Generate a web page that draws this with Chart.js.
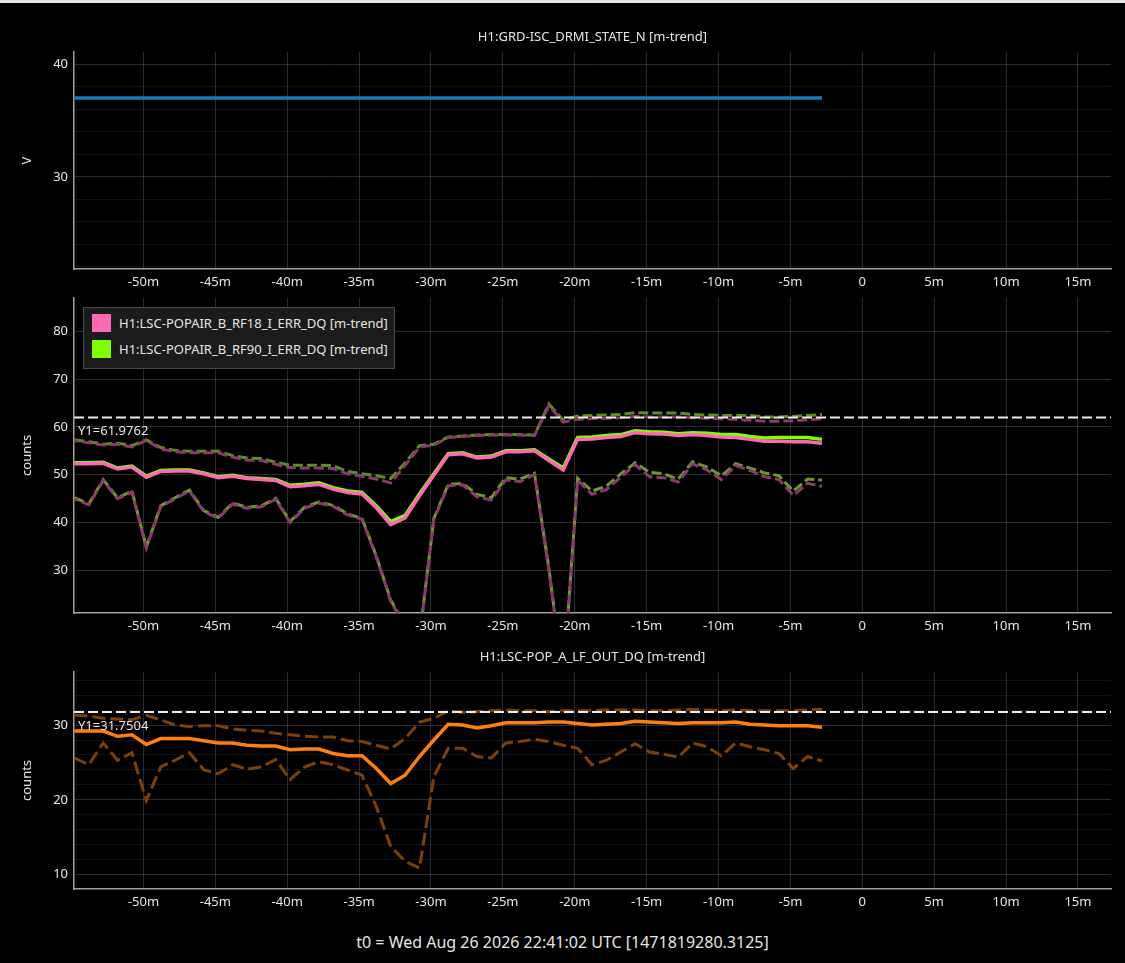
<!DOCTYPE html>
<html>
<head>
<meta charset="utf-8">
<script src="https://cdn.jsdelivr.net/npm/chart.js@4.4.1/dist/chart.umd.min.js"></script>
<style>
  html, body { margin: 0; padding: 0; background: #000; }
  body { width: 1125px; height: 963px; position: relative; overflow: hidden; border-top: 3px solid #e6e6e6; box-sizing: border-box; font-family: "Noto Sans", sans-serif; }
  canvas { position: absolute; left: 0; }
  #c1 { top: -3px; }
  #c2 { top: 281px; }
  #c3 { top: 637px; }
  .legend { position: absolute; left: 83px; top: 304px; width: 310px; height: 60px; background: #1b1b1b; border: 1px solid #4a4a4a; color: #e6e6e6; font-size: 13px; }
  .legend div { height: 26px; line-height: 18px; margin-top: 6px; margin-left: 8px; white-space: nowrap; }
  .legend span { display: inline-block; width: 19px; height: 18px; vertical-align: top; margin-right: 8px; }
  .footer { position: absolute; left: 0; width: 1125px; top: 928px; text-align: center; color: #e6e6e6; font-size: 16px; }
</style>
</head>
<body>
<canvas id="c1" width="1125" height="296"></canvas>
<canvas id="c2" width="1125" height="356"></canvas>
<canvas id="c3" width="1125" height="276"></canvas>
<div class="legend">
  <div><span style="background:#ff69b4"></span>H1:LSC-POPAIR_B_RF18_I_ERR_DQ [m-trend]</div>
  <div style="margin-top:0"><span style="background:#7fff00"></span>H1:LSC-POPAIR_B_RF90_I_ERR_DQ [m-trend]</div>
</div>
<div class="footer">t0 = Wed Aug 26 2026 22:41:02 UTC [1471819280.3125]</div>
<script>
// minute-trend sample times, minutes relative to t0
const times = [-54.8,-53.8,-52.8,-51.8,-50.8,-49.8,-48.8,-47.8,-46.8,-45.8,-44.8,-43.8,-42.8,-41.8,-40.8,-39.8,-38.8,-37.8,-36.8,-35.8,-34.8,-33.8,-32.8,-31.8,-30.8,-29.8,-28.8,-27.8,-26.8,-25.8,-24.8,-23.8,-22.8,-21.8,-20.8,-19.8,-18.8,-17.8,-16.8,-15.8,-14.8,-13.8,-12.8,-11.8,-10.8,-9.8,-8.8,-7.8,-6.8,-5.8,-4.8,-3.8,-2.8];

const xTicks = [-50,-45,-40,-35,-30,-25,-20,-15,-10,-5,0,5,10,15];

// H1:GRD-ISC_DRMI_STATE_N
const drmiState = [37,37,37,37,37,37,37,37,37,37,37,37,37,37,37,37,37,37,37,37,37,37,37,37,37,37,37,37,37,37,37,37,37,37,37,37,37,37,37,37,37,37,37,37,37,37,37,37,37,37,37,37,37];
const yTicksTop = [22,24,26,28,30,32,34,36,38,40];

// H1:LSC-POPAIR_B_RF18_I_ERR_DQ
const rf18Mean = [52.3,52.3,52.4,51.2,51.6,49.5,50.7,50.8,50.8,50.2,49.4,49.7,49.2,49.0,48.8,47.5,47.7,48.0,47.0,46.3,46.0,43.1,39.6,41.0,45.6,49.9,54.2,54.4,53.5,53.7,54.8,54.8,55.0,53.0,51.0,57.4,57.5,57.8,58.0,58.8,58.6,58.5,58.2,58.4,58.2,57.9,57.8,57.4,57.0,57.0,56.9,56.9,56.6];
const rf18Max = [57.1,56.7,56.2,56.4,55.8,57.2,55.4,54.8,54.6,54.6,54.6,53.7,53.1,53.0,52.2,51.5,51.4,51.4,51.3,50.2,49.7,49.1,48.3,52.0,55.8,56.2,57.8,58.0,58.2,58.3,58.3,58.3,58.2,64.5,61.0,61.6,61.7,61.8,61.9,62.2,62.1,62.1,62.1,61.9,61.8,61.7,61.6,61.4,61.2,61.2,61.3,61.5,61.7];
const rf18Min = [45.0,43.7,48.8,45.0,46.4,34.7,43.3,45.0,46.6,42.3,40.9,43.9,43.0,43.3,44.9,40.0,43.0,44.1,43.4,41.6,40.7,32.8,23.6,18.3,15.8,40.7,47.7,47.9,45.4,44.7,48.9,48.6,50.1,30.3,6.8,48.9,45.9,46.9,49.5,52.1,49.6,49.4,48.5,52.3,51.0,49.0,51.9,50.9,49.6,49.0,45.7,48.2,47.6];

// H1:LSC-POPAIR_B_RF90_I_ERR_DQ
const rf90Mean = [52.5,52.5,52.6,51.4,51.8,49.7,50.9,51.0,51.0,50.4,49.6,49.9,49.4,49.2,49.0,47.8,48.0,48.3,47.3,46.6,46.3,43.5,40.2,41.5,46.0,50.2,54.4,54.6,53.7,53.9,55.0,55.0,55.2,53.3,51.4,57.8,57.9,58.2,58.4,59.2,59.0,58.9,58.6,58.8,58.7,58.4,58.4,58.0,57.7,57.8,57.8,57.8,57.4];
const rf90Max = [57.3,56.9,56.4,56.6,56.1,57.3,55.7,55.1,54.9,54.9,54.9,54.0,53.5,53.4,52.6,52.0,52.0,52.0,51.9,50.7,50.2,49.8,49.2,52.5,56.1,56.4,57.9,58.1,58.3,58.4,58.4,58.4,58.3,64.8,61.4,62.3,62.4,62.5,62.6,63.0,62.9,62.9,62.9,62.6,62.5,62.4,62.4,62.4,62.1,62.1,62.2,62.4,62.6];
const rf90Min = [45.2,43.9,49.0,45.2,46.6,34.9,43.5,45.2,46.8,42.5,41.1,44.1,43.2,43.5,45.1,40.2,43.2,44.3,43.6,41.8,40.9,33.0,23.8,18.5,16.0,40.9,48.0,48.2,45.9,45.2,49.4,49.1,50.3,30.5,7.0,49.3,46.6,47.6,50.2,52.5,50.5,50.2,49.1,52.7,51.6,49.8,52.3,51.4,50.4,49.8,46.6,49.1,48.9];
const yTicksMid = [30,40,50,60,70,80];
const y1Mid = 61.9762;

// H1:LSC-POP_A_LF_OUT_DQ
const popMean = [29.2,29.2,29.2,28.5,28.7,27.4,28.2,28.2,28.2,27.9,27.6,27.6,27.3,27.2,27.2,26.7,26.8,26.8,26.2,25.9,25.9,24.2,22.2,23.3,25.8,28.0,30.1,30.0,29.6,29.9,30.3,30.3,30.3,30.4,30.4,30.2,30.0,30.1,30.2,30.5,30.4,30.3,30.2,30.3,30.3,30.3,30.4,30.1,30.0,29.9,29.9,29.9,29.7];
const popMax = [31.3,31.2,30.9,30.8,30.7,31.3,30.7,30.0,29.8,29.9,29.9,29.5,29.3,29.2,28.9,28.7,28.5,28.4,28.4,27.9,27.8,27.3,26.8,28.2,30.4,30.9,31.9,31.7,31.8,31.9,32.0,31.9,31.9,31.8,31.9,31.9,31.9,32.0,32.0,32.0,31.9,31.9,32.0,32.1,32.0,31.9,32.0,31.9,31.9,31.9,31.9,32.0,32.1];
const popMin = [25.6,24.7,27.6,25.3,26.3,19.9,24.4,25.3,26.3,24.0,23.5,24.7,24.1,24.4,25.4,22.7,24.4,25.1,24.7,24.0,23.3,19.1,13.8,11.8,10.9,23.1,26.9,26.9,25.8,25.6,27.6,27.8,28.1,27.8,27.3,26.9,24.7,25.3,26.4,27.5,26.4,26.1,25.7,27.6,27.1,25.9,27.6,27.1,26.7,26.2,24.2,25.8,25.2];
const yTicksBot = [10,12,14,16,18,20,22,24,26,28,30,32,34,36];
const y1Bot = 31.7504;

const X_MIN = -54.83;
const X_MAX = 17.3;
const FONT = '"Noto Sans", sans-serif';
const TEXT = '#e6e6e6';

function series(vals) {
  return vals.map((v, i) => ({ x: times[i], y: v }));
}

function solid(vals, color) {
  return { data: series(vals), borderColor: color, borderWidth: 3.5, pointRadius: 0, tension: 0 };
}

function dashed(vals, color, dash, offset) {
  return { data: series(vals), borderColor: color, borderWidth: 3, borderDash: dash, borderDashOffset: offset || 0, pointRadius: 0, tension: 0 };
}

function refLine(y) {
  return { data: [{ x: X_MIN, y: y }, { x: X_MAX, y: y }], borderColor: '#ececec', borderWidth: 2, borderDash: [10, 4], pointRadius: 0, refValue: y };
}

// writes "Y1=..." under each reference line
const refLabel = {
  id: 'refLabel',
  afterDatasetsDraw(chart) {
    const ctx = chart.ctx;
    chart.data.datasets.forEach((ds) => {
      if (ds.refValue === undefined) return;
      const y = chart.scales.y.getPixelForValue(ds.refValue);
      ctx.save();
      ctx.font = '13px ' + FONT;
      ctx.fillStyle = TEXT;
      ctx.textBaseline = 'middle';
      ctx.fillText('Y1=' + ds.refValue, chart.chartArea.left + 4, y + 14);
      ctx.restore();
    });
  }
};

function makePanel(id, opts) {
  const minorGrid = opts.minorGrid;
  new Chart(document.getElementById(id), {
    type: 'line',
    data: { datasets: opts.datasets },
    plugins: [refLabel],
    options: {
      responsive: false,
      animation: false,
      layout: { padding: { top: opts.padTop, right: 14, left: 0, bottom: 0 } },
      plugins: {
        legend: { display: false },
        tooltip: { enabled: false },
        title: {
          display: !!opts.title,
          text: opts.title,
          color: TEXT,
          fullSize: false,
          font: { family: FONT, size: 13, weight: 'normal' },
          padding: opts.titlePad
        }
      },
      scales: {
        x: {
          type: 'linear',
          min: X_MIN,
          max: X_MAX,
          afterBuildTicks: (s) => { s.ticks = xTicks.map(v => ({ value: v })); },
          afterFit: (s) => { s.height = 27; },
          ticks: {
            color: TEXT,
            padding: 5,
            maxRotation: 0,
            autoSkip: false,
            font: { family: FONT, size: 13 },
            callback: (v) => (v === 0 ? '0' : v + 'm')
          },
          grid: { color: 'rgba(255,255,255,0.17)', drawTicks: false },
          border: { display: true, color: '#a0a0a0', width: 1.5 }
        },
        y: {
          min: opts.yMin,
          max: opts.yMax,
          afterBuildTicks: (s) => { s.ticks = opts.yTicks.map(v => ({ value: v })); },
          afterFit: (s) => { s.width = 74; },
          title: {
            display: true,
            text: opts.yTitle,
            color: TEXT,
            font: { family: FONT, size: 13 },
            padding: 19
          },
          ticks: {
            color: TEXT,
            padding: 6,
            autoSkip: false,
            font: { family: FONT, size: 13 },
            callback: (v) => (v % 10 === 0 ? String(v) : '')
          },
          grid: {
            drawTicks: false,
            color: (c) => (c.tick && c.tick.value % 10 === 0 ? 'rgba(255,255,255,0.17)' : (minorGrid ? 'rgba(255,255,255,0.07)' : 'rgba(0,0,0,0)'))
          },
          border: { display: true, color: '#a0a0a0', width: 1.5 }
        }
      }
    }
  });
}

makePanel('c1', {
  title: 'H1:GRD-ISC_DRMI_STATE_N [m-trend]',
  titlePad: { top: 29, bottom: 7.4 },
  padTop: 0,
  yTitle: 'V',
  yMin: 21.8, yMax: 41.1,
  yTicks: yTicksTop,
  minorGrid: true,
  datasets: [solid(drmiState, '#1f77b4')]
});

makePanel('c2', {
  title: '',
  titlePad: 0,
  padTop: 0,
  yTitle: 'counts',
  yMin: 21.1, yMax: 87.0,
  yTicks: yTicksMid,
  minorGrid: false,
  datasets: [
    refLine(y1Mid),
    dashed(rf18Max, '#8a3a6c', [10, 4], 6),
    dashed(rf18Min, '#8a3a6c', [10, 4], 6),
    dashed(rf90Max, '#5e8f1e', [10, 4], 0),
    dashed(rf90Min, '#6f982a', [10, 4], 0),
    solid(rf18Mean, '#ff69b4'),
    solid(rf90Mean, '#7fff00')
  ]
});

makePanel('c3', {
  title: 'H1:LSC-POP_A_LF_OUT_DQ [m-trend]',
  titlePad: { top: 9, bottom: 7.3 },
  padTop: 0,
  yTitle: 'counts',
  yMin: 8.1, yMax: 37.1,
  yTicks: yTicksBot,
  minorGrid: true,
  datasets: [
    refLine(y1Bot),
    dashed(popMax, '#7d4009', [13, 5], 0),
    dashed(popMin, '#7d4009', [13, 5], 0),
    solid(popMean, '#ff7f0e')
  ]
});
</script>
</body>
</html>
